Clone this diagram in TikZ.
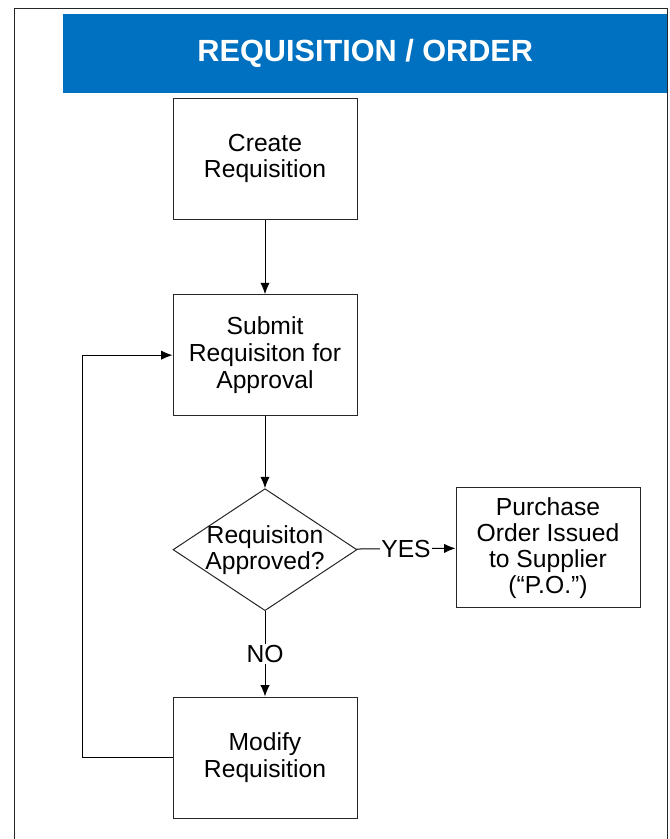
\documentclass[tikz,border=0pt]{standalone}
\usepackage{fontspec}
\setmainfont{Liberation Sans}
\usepackage{xcolor}
\usepackage{tikz}
\usetikzlibrary{shapes.geometric, arrows.meta, positioning}
\definecolor{bannerblue}{RGB}{0,112,192}
\tikzset{
    stepbox/.style={rectangle, minimum width=138pt, minimum height=90.75pt, text centered, align=center, draw=black!85, line width=0.75pt, font=\fontsize{18.5}{20}\selectfont},
    decision/.style={diamond, minimum width=138pt, minimum height=91.5pt, inner sep=0pt, draw=black!85, line width=0.75pt},
    arrow/.style={line width=0.75pt, -{Latex[length=8.5pt,width=7pt]}},
    choice/.style={fill=white, inner sep=1pt, font=\fontsize{18.5}{20}\selectfont}
}
\begin{document}
\begin{tikzpicture}[x=0.75pt, y=-0.75pt]
    \useasboundingbox (0,0) rectangle (670,839);
    \clip (0,0) rectangle (670,839);
    \draw [black!85, line width=0.75pt] (14,845) -- (14,8) -- (667,8) -- (667,845);
    \node (banner) [fill=bannerblue, minimum width=453pt, minimum height=59.25pt, inner sep=0pt, anchor=north west,
        text=white, font=\bfseries\fontsize{23}{26}\selectfont] at (63,14) {REQUISITION / ORDER};

    \node (create) [stepbox] at (265,158.5) {Create\\Requisition};
    \node (submit) [stepbox, below=56pt of create] {Submit\\Requisiton for\\Approval};
    \node (approved) [decision, below=54pt of submit,
        label={[align=center, font=\fontsize{18.5}{19.5}\selectfont]center:Requisiton\\Approved?}] {};
    \node (po) [stepbox, right=73.5pt of approved, yshift=1.5pt, minimum height=90pt, font=\fontsize{18.5}{19.5}\selectfont] {Purchase\\Order Issued\\to Supplier\\(“P.O.”)};
    \node (modify) [stepbox, below=64pt of approved] {Modify\\Requisition};

    \draw [arrow] (create) -- (submit);
    \draw [arrow] (submit) -- (approved);
    \draw [arrow] (approved) -- node[choice] {YES} (po);
    \draw [arrow] (approved) -- node[choice] {NO} (modify);
    \draw [arrow] (modify.west) -- ++(-90,0) |- (submit.west);
\end{tikzpicture}
\end{document}
